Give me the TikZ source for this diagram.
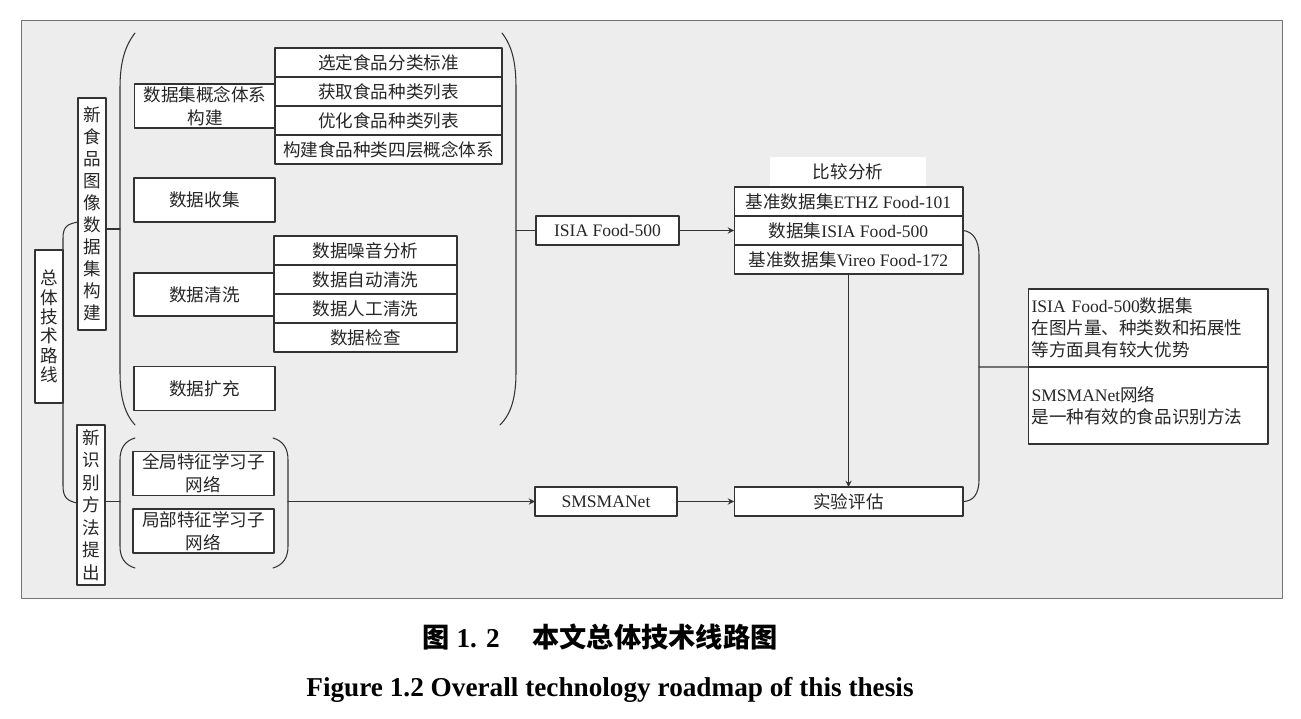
\documentclass[tikz,border=0pt]{standalone}
\usepackage{fontspec}
\setmainfont{Liberation Serif}
\newfontfamily\cjk{Noto Sans CJK SC}
\usetikzlibrary{positioning}
\definecolor{linec}{gray}{0.2}
\definecolor{bgc}{gray}{0.93}
\begin{document}
\begin{tikzpicture}[x=0.02cm, y=-0.02cm, >=stealth, line join=round, line cap=round,
	box/.style={draw=linec, fill=white, line width=0.6pt, outer sep=0pt, inner sep=1pt, align=center, text=black!85, font=\cjk\fontsize{10}{13}\selectfont},
	vbox/.style={box, minimum width=0.56cm, font=\cjk\fontsize{10}{12.5}\selectfont},
	tbox/.style={box, minimum width=2.82cm, minimum height=0.88cm},
	cell/.style={box, minimum height=0.58cm},
	latin/.style={font=\rmfamily\fontsize{10}{12}\selectfont},
	conn/.style={draw=linec, line width=0.6pt}]
	\useasboundingbox (0,0) rectangle (1301,719);
	\draw[draw=black!55, fill=bgc] (21,20) rectangle (1282,598);
	% left column
	\node[vbox, minimum height=3.06cm, font=\cjk\fontsize{10}{11}\selectfont] (total) at (49,326.5) {总\\体\\技\\术\\路\\线};
	\node[vbox, minimum height=4.64cm] (dataset) at (92,214) {新\\食\\品\\图\\像\\数\\据\\集\\构\\建};
	\node[vbox, minimum height=3.2cm, font=\cjk\fontsize{10}{12.8}\selectfont] (method) at (91,505) {新\\识\\别\\方\\法\\提\\出};
	% dataset group
	\node[tbox] (concept) at (205,106) {数据集概念体系\\构建};
	\foreach \t [count=\i] in {选定食品分类标准,获取食品种类列表,优化食品种类列表,构建食品种类四层概念体系}
		\node[cell, minimum width=4.54cm] (sa\i) at (388.5,{62.5+29*(\i-1)}) {\t};
	\node[tbox] (collect) at (204.5,200) {数据收集};
	\node[tbox, minimum height=0.86cm] (clean) at (204.5,294.5) {数据清洗};
	\foreach \t [count=\i] in {数据噪音分析,数据自动清洗,数据人工清洗,数据检查}
		\node[cell, minimum width=3.66cm] (sb\i) at (365.5,{250.5+29*(\i-1)}) {\t};
	\node[tbox] (expand) at (204.5,388.5) {数据扩充};
	% method group
	\node[tbox] (global) at (203.5,473.5) {全局特征学习子\\网络};
	\node[tbox] (local) at (203.5,531) {局部特征学习子\\网络};
	% middle and right
	\node[cell, latin, minimum width=2.86cm] (isia) at (607.5,230.5) {ISIA Food-500};
	\node[cell, latin, minimum width=2.84cm] (smsma) at (606,501.5) {SMSMANet};
	\node[fill=white, text=black!85, minimum width=3.14cm, minimum height=0.6cm, font=\cjk\fontsize{10}{12}\selectfont] (cmp) at (848,172) {比较分析};
	\foreach \t [count=\i] in {基准数据集{\rmfamily ETHZ Food-101},数据集{\rmfamily ISIA Food-500},基准数据集{\rmfamily Vireo Food-172}}
		\node[cell, minimum width=4.58cm] (sc\i) at (848.5,{201.5+29*(\i-1)}) {\t};
	\node[cell, minimum width=4.58cm] (eval) at (848.5,501.5) {实验评估};
	\node[box, align=left, text width=4.66cm, inner xsep=0.07cm, minimum height=1.56cm, font=\cjk\fontsize{10}{12.5}\selectfont] (res1) at (1148,328) {{\rmfamily ISIA Food-500}数据集\\在图片量、种类数和拓展性\\等方面具有较大优势};
	\node[box, align=left, text width=4.66cm, inner xsep=0.07cm, minimum height=1.54cm, font=\cjk\fontsize{10}{12.5}\selectfont, below=0pt of res1] (res2) {{\rmfamily SMSMANet}网络\\是一种有效的食品识别方法};
	% braces
	\coordinate (tbT) at (78,222);
	\coordinate (tbB) at (77,503);
	\draw[conn] (tbT) .. controls +(-10,2) and +(0,-12) .. (63,238) -- (63,486) .. controls +(0,12) and +(-9,-2) .. (tbB);
	\coordinate (dsL) at (120,229);
	\coordinate (dsR) at (516,230.5);
	\draw[conn] (135,33) .. controls (125,46) and (120,62) .. (120,88) -- (120,372) .. controls (120,398) and (125,414) .. (135,425);
	\draw[conn] (502,33) .. controls (512,46) and (516,62) .. (516,88) -- (516,372) .. controls (516,398) and (511,414) .. (500,425);
	\draw[conn] (dsL -| dataset.east) -- (dsL);
	\draw[conn] (dsR) -- (isia.west);
	\coordinate (lgL) at (120,501.5);
	\coordinate (lgR) at (288,501.5);
	\draw[conn] (135,438) .. controls (125,441) and (120,448) .. (120,460) -- (120,546) .. controls (120,558) and (125,565) .. (135,568);
	\draw[conn] (273,438) .. controls (283,441) and (288,448) .. (288,460) -- (288,546) .. controls (288,558) and (283,565) .. (273,568);
	\draw[conn] (method.east |- lgL) -- (lgL);
	\coordinate (resL) at (979,367);
	\draw[conn] (sc2.east) .. controls +(10,1) and +(0,-16) .. (979,256) -- (979,480) .. controls +(0,14) and +(10,0) .. (eval.east);
	\draw[conn] (resL) -- (res1.south west);
	% arrows
	\draw[conn, ->] (lgR) -- (smsma);
	\draw[conn, ->] (smsma) -- (eval);
	\draw[conn, ->] (isia) -- (sc2);
	\draw[conn, ->] (sc3) -- (eval);
	% caption
	\node[font=\fontsize{15.5}{18}\selectfont\bfseries] (cap1) at (600,637) {{\cjk 图} 1. 2\hspace{1.2em}{\cjk 本文总体技术线路图}};
	\node[font=\fontsize{15.5}{18}\selectfont\bfseries] (cap2) at (610,690) {Figure 1.2 Overall technology roadmap of this thesis};
\end{tikzpicture}
\end{document}
